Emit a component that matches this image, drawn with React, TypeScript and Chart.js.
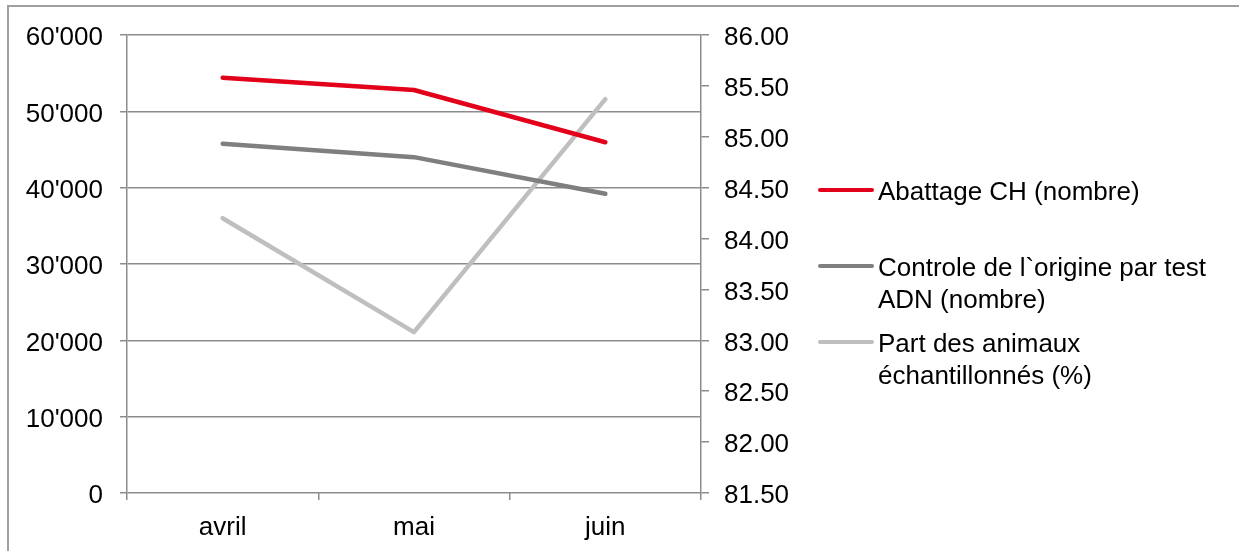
import React, { useEffect, useRef } from "react";
import { Chart, registerables } from "chart.js";

Chart.register(...registerables);

const categories = ["avril", "mai", "juin"];
const abattage = [54400, 52800, 45950];
const controle = [45750, 44000, 39200];
const partAnimaux = [84.2, 83.08, 85.37];
const legendLabels = [
  ["Abattage CH (nombre)"],
  ["Controle de l`origine par test", "ADN (nombre)"],
  ["Part des animaux", "échantillonnés (%)"],
];

const FONT = "'Liberation Sans', Arial, sans-serif";
const FONT_SIZE = 26;
const AXIS_GRAY = "#8C8C8C";

const formatThousands = (v: number) =>
  String(Math.round(v)).replace(/\B(?=(\d{3})+(?!\d))/g, "'");

const legendPlugin = {
  id: "customLegend",
  afterDraw(chart: any) {
    const ctx = chart.ctx as CanvasRenderingContext2D;
    const x0 = 820;
    const x1 = 872;
    const tx = 878;
    const startY = 190;
    const step = 76;
    const lineH = 32;
    ctx.save();
    ctx.font = `${FONT_SIZE}px ${FONT}`;
    ctx.textBaseline = "middle";
    ctx.textAlign = "left";
    chart.data.datasets.forEach((ds: any, i: number) => {
      const y = startY + i * step;
      ctx.strokeStyle = ds.borderColor;
      ctx.lineWidth = 4;
      ctx.lineCap = "round";
      ctx.beginPath();
      ctx.moveTo(x0, y);
      ctx.lineTo(x1, y);
      ctx.stroke();
      ctx.fillStyle = "#000";
      const lines: string[] = ds.legendText;
      lines.forEach((t, j) => ctx.fillText(t, tx, y + j * lineH + 2.5));
    });
    ctx.restore();
  },
};

export default function App() {
  const canvasRef = useRef<HTMLCanvasElement | null>(null);

  useEffect(() => {
    const canvas = canvasRef.current;
    if (!canvas) return;
    const tickFont = { family: FONT, size: FONT_SIZE };
    const chart = new Chart(canvas, {
      type: "line",
      data: {
        labels: categories,
        datasets: [
          {
            label: legendLabels[0].join(" "),
            legendText: legendLabels[0],
            data: abattage,
            borderColor: "#E2001A",
            yAxisID: "y",
          } as any,
          {
            label: legendLabels[1].join(" "),
            legendText: legendLabels[1],
            data: controle,
            borderColor: "#7F7F7F",
            yAxisID: "y",
          } as any,
          {
            label: legendLabels[2].join(" "),
            legendText: legendLabels[2],
            data: partAnimaux,
            borderColor: "#BFBFBF",
            yAxisID: "y1",
          } as any,
        ],
      },
      options: {
        responsive: false,
        animation: false,
        devicePixelRatio: 1,
        elements: {
          line: {
            borderWidth: 4.5,
            borderCapStyle: "round",
            borderJoinStyle: "round",
            tension: 0,
          },
          point: { radius: 0, hoverRadius: 0 },
        },
        layout: { padding: { top: 35, left: 0, right: 438, bottom: 0 } },
        plugins: {
          legend: { display: false },
          tooltip: { enabled: false },
        },
        scales: {
          x: {
            offset: true,
            grid: {
              offset: true,
              drawOnChartArea: false,
              drawTicks: true,
              tickLength: 7,
              color: AXIS_GRAY,
              lineWidth: 1.5,
            },
            border: { display: false },
            ticks: { font: tickFont, color: "#000", padding: 12 },
            afterFit: (scale: any) => {
              scale.height = 58;
            },
          },
          y: {
            position: "left",
            min: 0,
            max: 60000,
            grid: {
              drawOnChartArea: true,
              drawTicks: true,
              tickLength: 7,
              color: AXIS_GRAY,
              lineWidth: 1.5,
            },
            border: { display: true, color: AXIS_GRAY, width: 1.5 },
            ticks: {
              stepSize: 10000,
              font: tickFont,
              color: "#000",
              padding: 17,
              labelOffset: 3,
              callback: (v: any) => formatThousands(Number(v)),
            },
            afterFit: (scale: any) => {
              scale.width = 127;
            },
          },
          y1: {
            position: "right",
            min: 81.5,
            max: 86,
            grid: {
              drawOnChartArea: false,
              drawTicks: true,
              tickLength: 8,
              color: AXIS_GRAY,
              lineWidth: 1.5,
            },
            border: { display: true, color: AXIS_GRAY, width: 1.5 },
            ticks: {
              stepSize: 0.5,
              font: tickFont,
              color: "#000",
              padding: 15,
              labelOffset: 3,
              callback: (v: any) => Number(v).toFixed(2),
            },
            afterFit: (scale: any) => {
              scale.width = 100;
            },
          },
        },
      } as any,
      plugins: [legendPlugin],
    });
    return () => chart.destroy();
  }, []);

  return (
    <div>
      <div
        style={{
          position: "fixed",
          left: 7,
          top: 5,
          width: 1400,
          height: 700,
          borderLeft: "2px solid #A0A0A0",
          borderTop: "2px solid #A0A0A0",
          background: "#fff",
        }}
      />
      <canvas
        ref={canvasRef}
        width={1239}
        height={551}
        style={{ position: "fixed", left: 0, top: 0, width: 1239, height: 551 }}
      />
    </div>
  );
}
